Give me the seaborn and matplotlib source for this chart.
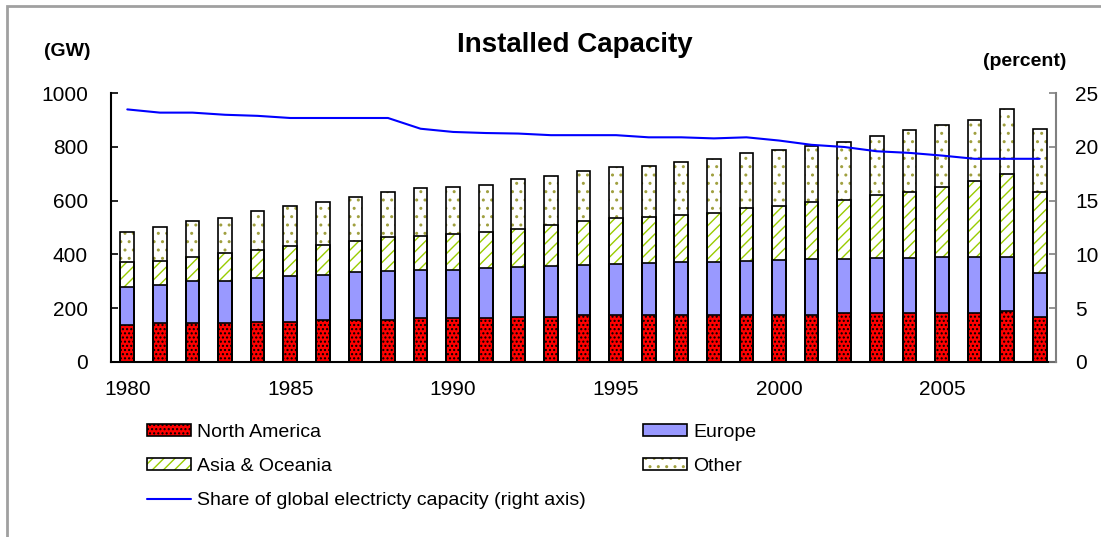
import numpy as np
import matplotlib
matplotlib.use('Agg')
import matplotlib.pyplot as plt
from matplotlib.patches import Patch, Rectangle
from matplotlib.lines import Line2D
import seaborn as sns

# values (GW, stacked) and share (%)
years = list(range(1980, 2009))
north_america = [137, 143, 143, 143, 149, 149, 155, 155, 155, 163,
                 162, 162, 168, 168, 174, 174, 174, 174, 174, 174,
                 174, 174, 183, 183, 183, 183, 183, 190, 165]
europe = [141, 143, 157, 157, 162, 170, 168, 179, 184, 180,
          180, 186, 184, 190, 185, 190, 193, 199, 199, 200,
          205, 209, 200, 204, 204, 208, 208, 201, 167]
asia_oceania = [93, 90, 91, 104, 105, 111, 113, 115, 124, 126,
                134, 134, 142, 151, 164, 170, 173, 175, 181, 199,
                202, 211, 218, 234, 246, 261, 282, 307, 301]
other = [112, 127, 132, 131, 145, 151, 158, 165, 170, 178,
         176, 177, 186, 183, 189, 190, 190, 196, 202, 203,
         209, 208, 216, 221, 229, 230, 229, 242, 235]
share = [23.5, 23.2, 23.2, 23.0, 22.9, 22.7, 22.7, 22.7, 22.7, 21.7,
         21.4, 21.3, 21.25, 21.1, 21.1, 21.1, 20.9, 20.9, 20.8, 20.9,
         20.6, 20.2, 20.0, 19.6, 19.45, 19.2, 18.9, 18.9, 18.9]
label_years = [1980, 1985, 1990, 1995, 2000, 2005]

sns.set_style('white')
plt.rcParams['font.family'] = ['Liberation Sans', 'DejaVu Sans']
plt.rcParams['hatch.linewidth'] = 1.0
for k in ['text.color', 'axes.labelcolor', 'xtick.color', 'ytick.color']:
    plt.rcParams[k] = 'black'

W, H = 1101, 537
fig = plt.figure(figsize=(W / 100, H / 100), dpi=100)
ax = fig.add_axes([111 / W, 1 - 361.7 / H, (1056 - 111) / W, (361.7 - 93.3) / H])

# stack layers, drawn from tallest to shortest
na = np.array(north_america)
eu = na + np.array(europe)
asia = eu + np.array(asia_oceania)
tot = asia + np.array(other)

layers = [
    (tot, 'white', '#A0A040', '..'),
    (asia, 'white', '#99CC00', '///'),
    (eu, '#9999FF', '#9999FF', None),
    (na, '#FF0000', 'black', '....'),
]
bw = 0.42
for vals, fc, hc, hatch in layers:
    n0 = len(ax.patches)
    sns.barplot(x=years, y=vals, ax=ax, color=fc, saturation=1, width=bw,
                edgecolor=hc, linewidth=0, hatch=hatch, errorbar=None)
    for p in ax.patches[n0:]:
        p.set_facecolor(fc)

# black outlines of each segment
for p in list(ax.patches):
    ax.add_patch(Rectangle(p.get_xy(), p.get_width(), p.get_height(), fill=False,
                           edgecolor='black', linewidth=1.2, zorder=3))

n = len(years)
ax.set_xlim(-0.5, n - 0.5)
ax.set_ylim(0, 1000)
ax.set_yticks(range(0, 1001, 200))
ax.set_xticks([years.index(y) for y in label_years])
ax.set_xticklabels([str(y) for y in label_years])
ax.set_xticks(np.arange(-0.5, n, 1), minor=True)
ax.tick_params(axis='x', which='major', length=0, pad=13, labelsize=15)
ax.tick_params(axis='x', which='minor', direction='in', length=4, width=1.2, color='black')
ax.tick_params(axis='y', direction='in', length=5, width=1.2, color='black', pad=16.5, labelsize=15, left=True)
ax.set_xlabel('')
ax.set_ylabel('')
for s in ['top', 'right']:
    ax.spines[s].set_visible(False)
for s in ['left', 'bottom']:
    ax.spines[s].set_color('black')
    ax.spines[s].set_linewidth(1.5)

ax2 = ax.twinx()
sns.lineplot(x=np.arange(n), y=share, ax=ax2, color='#0000FF', linewidth=1.5)
ax2.set_ylim(0, 25)
ax2.set_yticks(range(0, 26, 5))
ax2.tick_params(axis='y', direction='in', length=5, width=1.2, color='#808080', pad=14, labelsize=15, right=True)
ax2.set_ylabel('')
for s in ['top', 'left', 'bottom']:
    ax2.spines[s].set_visible(False)
ax2.spines['right'].set_color('#808080')
ax2.spines['right'].set_linewidth(1.5)

fig.text(575 / W, 1 - 45 / H, 'Installed Capacity', ha='center', va='center',
         fontsize=20, fontweight='bold')
fig.text(67 / W, 1 - 52 / H, '(GW)', ha='center', va='center', fontsize=14, fontweight='bold')
fig.text(1025 / W, 1 - 62 / H, '(percent)', ha='center', va='center', fontsize=14, fontweight='bold')


def hatched(fc, hc, hatch):
    return (Patch(facecolor=fc, edgecolor=hc, linewidth=0, hatch=hatch),
            Patch(fill=False, edgecolor='black', linewidth=1.2))


leg_kw = dict(frameon=False, fontsize=14, handlelength=2.3, handleheight=0.6,
              handletextpad=0.3, labelspacing=0.88, borderpad=0, borderaxespad=0,
              loc='upper left')
fig.legend([hatched('#FF0000', 'black', '....'), hatched('white', '#99CC00', '///'),
            Line2D([], [], color='#0000FF', linewidth=1.5)],
           ['North America', 'Asia & Oceania', 'Share of global electricty capacity (right axis)'],
           bbox_to_anchor=(146.7 / W, 1 - 424 / H), **leg_kw)
fig.legend([hatched('#9999FF', '#9999FF', None), hatched('white', '#A0A040', '..')],
           ['Europe', 'Other'],
           bbox_to_anchor=(642.7 / W, 1 - 424 / H), **leg_kw)

# outer frame
fig.add_artist(Rectangle((7 / W, -0.2), 1.2, 1.2 - 6 / H, transform=fig.transFigure,
                         fill=False, edgecolor='#A0A0A0', linewidth=2))

fig.savefig('out.png', dpi=100)
